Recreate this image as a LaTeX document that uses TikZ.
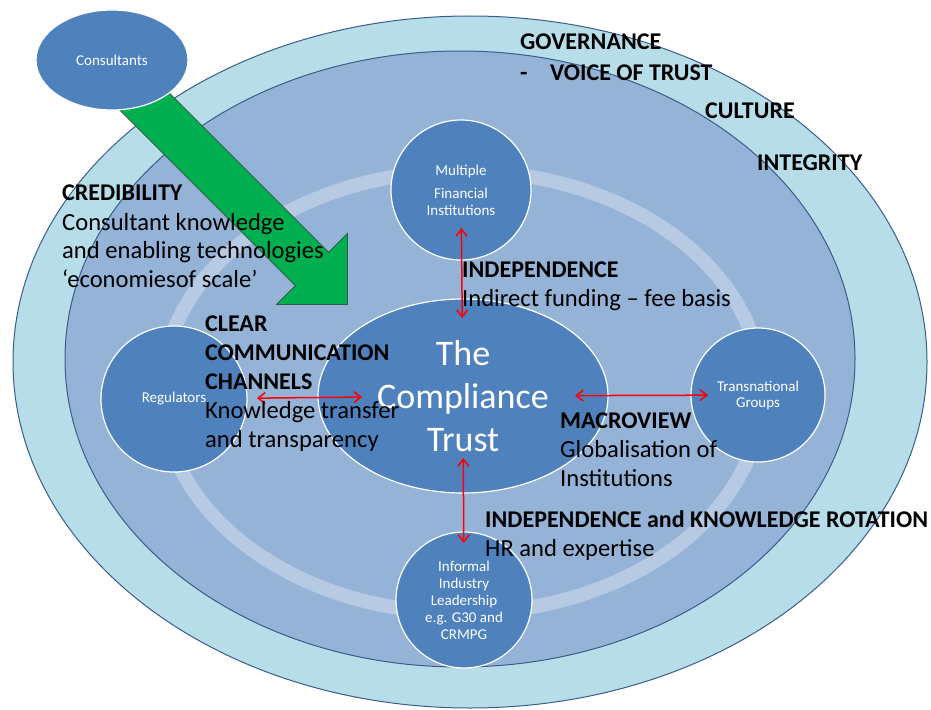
\documentclass[tikz,border=0pt]{standalone}
\usepackage{fontspec}
\setmainfont{Carlito}
\usetikzlibrary{arrows.meta,shapes.geometric}
\definecolor{outerfill}{HTML}{B7DDE8}
\definecolor{midfill}{HTML}{95B3D7}
\definecolor{ringband}{HTML}{B6CAE3}
\definecolor{nodefill}{HTML}{4F81BD}
\definecolor{edgeblue}{HTML}{385D8A}
\definecolor{arrowgreen}{HTML}{00B050}
\definecolor{arrowedge}{HTML}{2E5B45}
\begin{document}
\begin{tikzpicture}[x=1pt,y=-1pt,
  zone/.style={fill=#1, draw=edgeblue, line width=1pt},
  actor/.style={circle, fill=nodefill, draw=white, line width=1.2pt, text=white,
    align=center, font=\fontsize{15}{17}\selectfont, inner sep=0pt, outer sep=0pt,
    minimum size=#1},
  oval/.style={ellipse, fill=nodefill, draw=white, line width=1.2pt, text=white,
    align=center, inner sep=0pt, outer sep=0pt},
  lbl/.style={anchor=base west, inner sep=0pt, text=black, font=\fontsize{24.6}{29}\selectfont},
  hd/.style={lbl, font=\fontsize{24}{29}\selectfont\bfseries},
  redarrow/.style={draw=red, line width=1.5pt, >={Straight Barb[length=7pt,width=11pt]}, <->},
]
\useasboundingbox (0,0) rectangle (931,709);
% zones
\draw[zone=outerfill] (470,362) ellipse [x radius=457pt, y radius=346pt];
\draw[zone=midfill] (460,359) ellipse [x radius=395pt, y radius=308pt];
\draw[ringband, line width=14pt] (462,392) ellipse [x radius=300pt, y radius=221pt];
% green arrow
\draw[fill=arrowgreen, draw=arrowedge, line width=0.8pt, line join=miter]
  (136.6,60.4) -- (328.6,252.4) -- (347.4,233.6) -- (347.4,304.4)
  -- (276.6,304.4) -- (295.4,285.6) -- (103.4,93.6) -- cycle;
% nodes
\node[oval, minimum width=152pt, minimum height=100pt, font=\fontsize{15}{17}\selectfont] (cons) at (112,60) {Consultants};
\node[actor=140pt] (mfi) at (461,190) {Multiple\\[6pt]Financial\\Institutions};
\node[actor=146pt] (reg) at (174,399) {Regulators};
\node[actor=134pt, font=\fontsize{15}{16}\selectfont] (trans) at (758,395) {Transnational\\Groups};
\node[actor=136pt] (inf) at (464,600) {Informal\\Industry\\Leadership\\e.g. G30 and\\CRMPG};
\node[oval, minimum width=290pt, minimum height=194pt, font=\fontsize{36}{43}\selectfont] (trust) at (463,396) {The\\Compliance\\Trust};
% red connectors
\draw[redarrow, shorten <=-32pt, shorten >=-19pt] (mfi) -- (trust);
\draw[redarrow, shorten <=10pt, shorten >=-44pt] (reg) -- (trust);
\draw[redarrow, shorten <=-33pt, shorten >=-17pt] (trust) -- (trans);
\draw[redarrow, shorten <=-35pt, shorten >=-11pt] (trust) -- (inf);
% texts
\node[hd] (gov) at (520,50) {GOVERNANCE};
\node[hd] (dash) at (520,80) {-};
\node[hd] (voice) at (550,80) {VOICE OF TRUST};
\node[hd] (cult) at (705,118) {CULTURE};
\node[hd] (integ) at (757,170) {INTEGRITY};
\node[hd] (cred) at (62,200) {CREDIBILITY};
\node[lbl] (cred1) at (62,230) {Consultant knowledge};
\node[lbl] (cred2) at (62,258) {and enabling technologies};
\node[lbl] (cred3) at (62,287) {‘economiesof scale’};
\node[hd] (clear) at (205,331) {CLEAR};
\node[hd] (comm) at (205,360) {COMMUNICATION};
\node[hd] (chan) at (205,389) {CHANNELS};
\node[lbl] (know) at (205,418) {Knowledge transfer};
\node[lbl] (transp) at (205,447) {and transparency};
\node[hd] (indep) at (462,277) {INDEPENDENCE};
\node[lbl] (fund) at (462,306) {Indirect funding – fee basis};
\node[hd] (macro) at (560,428) {MACROVIEW};
\node[lbl] (glob) at (560,457) {Globalisation of};
\node[lbl] (inst) at (560,486) {Institutions};
\node[hd] (rot) at (485,527) {INDEPENDENCE and KNOWLEDGE ROTATION};
\node[lbl] (hr) at (485,556) {HR and expertise};
\end{tikzpicture}
\end{document}
